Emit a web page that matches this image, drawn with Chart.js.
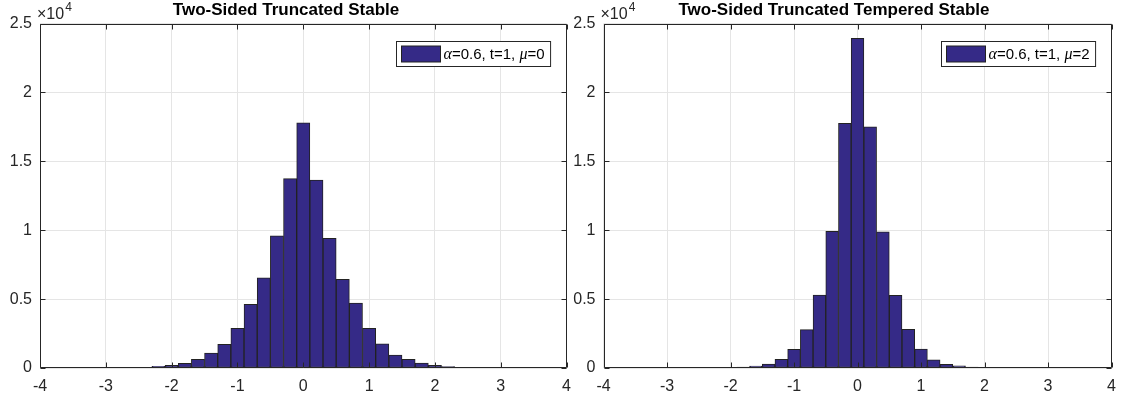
<!DOCTYPE html>
<html>
<head>
<meta charset="utf-8">
<script src="https://cdn.jsdelivr.net/npm/chart.js@4.4.1/dist/chart.umd.min.js"></script>
<style>
  html, body { margin: 0; padding: 0; background: #ffffff; }
  body { width: 1125px; height: 405px; position: relative; overflow: hidden; }
  canvas { position: absolute; top: 0; }
</style>
</head>
<body>
<canvas id="left" width="580" height="405" style="left:0px"></canvas>
<canvas id="right" width="560" height="405" style="left:565px"></canvas>
<script>
// ---- data ----
const leftTitle = "Two-Sided Truncated Stable";
const rightTitle = "Two-Sided Truncated Tempered Stable";
const leftLegend = ["α", "=0.6, t=1, ", "μ", "=0"];
const rightLegend = ["α", "=0.6, t=1, ", "μ", "=2"];

const leftCenters = [-3.8, -3.6, -3.4, -3.2, -3.0, -2.8, -2.6, -2.4, -2.2, -2.0,
                     -1.8, -1.6, -1.4, -1.2, -1.0, -0.8, -0.6, -0.4, -0.2, 0.0,
                     0.2, 0.4, 0.6, 0.8, 1.0, 1.2, 1.4, 1.6, 1.8, 2.0,
                     2.2, 2.4, 2.6, 2.8, 3.0, 3.2];
const leftCounts = [3, 4, 6, 8, 12, 15, 25, 50, 120, 190,
                    330, 630, 1080, 1720, 2880, 4620, 6550, 9600, 13740, 17800,
                    13630, 9410, 6440, 4720, 2880, 1750, 940, 630, 360, 190,
                    100, 50, 25, 15, 8, 4];

const rightCenters = [-3.0, -2.8, -2.6, -2.4, -2.2, -2.0, -1.8, -1.6, -1.4, -1.2,
                      -1.0, -0.8, -0.6, -0.4, -0.2, 0.0, 0.2, 0.4, 0.6, 0.8,
                      1.0, 1.2, 1.4, 1.6, 1.8, 2.0, 2.2, 2.4, 2.6, 2.8, 3.0];
const rightCounts = [2, 3, 3, 5, 8, 15, 60, 140, 290, 630,
                     1360, 2780, 5300, 9920, 17760, 23930, 17510, 9890, 5270, 2810,
                     1380, 600, 270, 150, 70, 30, 15, 8, 5, 3, 2];

const xTickValues = [-4, -3, -2, -1, 0, 1, 2, 3, 4];
const yTickValues = [0, 5000, 10000, 15000, 20000, 25000];
const yExponent = "4";

// ---- styling ----
const BAR_FILL = "#352a87";
const BAR_EDGE = "#222222";
const AXIS_COLOR = "#262626";
const GRID_COLOR = "#e5e5e5";
const FONT = "'Liberation Sans', Arial, Helvetica, sans-serif";
const TICK_SIZE = 16;

const decor = {
  id: "matlabDecor",
  afterDatasetsDraw(chart, args, o) {
    const ctx = chart.ctx;
    const ca = chart.chartArea;
    const xs = chart.scales.x, ys = chart.scales.y;
    const L = Math.round(ca.left) + 0.5, R = Math.round(ca.right) - 0.5;
    const T = Math.round(ca.top) + 0.5, B = Math.round(ca.bottom) - 0.5;
    ctx.save();
    ctx.strokeStyle = AXIS_COLOR;
    ctx.lineWidth = 1;
    ctx.beginPath();
    ctx.rect(L, T, R - L, B - T);
    // inward tick marks
    const tl = 5;
    xTickValues.forEach(v => {
      const px = Math.round(xs.getPixelForValue(v)) + 0.5;
      ctx.moveTo(px, B); ctx.lineTo(px, B - tl);
      ctx.moveTo(px, T); ctx.lineTo(px, T + tl);
    });
    yTickValues.forEach(v => {
      const py = Math.round(ys.getPixelForValue(v)) + 0.5;
      ctx.moveTo(L, py); ctx.lineTo(L + tl, py);
      ctx.moveTo(R, py); ctx.lineTo(R - tl, py);
    });
    ctx.stroke();

    // legend box (top-right, inside axes)
    const parts = o.legend;
    const fs = 15;
    const normalFont = fs + "px " + FONT;
    const italFont = "italic " + (fs + 1) + "px 'Liberation Serif', 'DejaVu Serif', serif";
    let tw = 0;
    parts.forEach((p, i) => {
      ctx.font = (i % 2 === 0) ? italFont : normalFont;
      tw += ctx.measureText(p).width;
    });
    const sw = 39, sh = 16, pad = 5, gap = 3, bh = 25;
    const bw = pad + sw + gap + tw + 6;
    const bx = Math.round(ca.right - 16 - bw) + 0.5;
    const by = Math.round(ca.top + 17) + 0.5;
    ctx.fillStyle = "#ffffff";
    ctx.fillRect(bx, by, bw, bh);
    ctx.strokeStyle = AXIS_COLOR;
    ctx.strokeRect(bx, by, bw, bh);
    ctx.fillStyle = BAR_FILL;
    ctx.fillRect(bx + pad, by + (bh - sh) / 2, sw, sh);
    ctx.strokeStyle = BAR_EDGE;
    ctx.strokeRect(bx + pad, by + (bh - sh) / 2, sw, sh);
    let tx = bx + pad + sw + gap;
    ctx.fillStyle = "#000000";
    ctx.textBaseline = "middle";
    ctx.textAlign = "left";
    parts.forEach((p, i) => {
      ctx.font = (i % 2 === 0) ? italFont : normalFont;
      ctx.fillText(p, tx, by + bh / 2 + 1);
      tx += ctx.measureText(p).width;
    });
    ctx.restore();
  },
  afterDraw(chart, args, o) {
    const ctx = chart.ctx;
    const ca = chart.chartArea;
    ctx.save();
    ctx.fillStyle = "#000000";
    ctx.textAlign = "center";
    ctx.textBaseline = "alphabetic";
    ctx.font = "bold 17px " + FONT;
    ctx.fillText(o.title, o.titleX, 15);
    // exponent label
    ctx.fillStyle = AXIS_COLOR;
    ctx.textAlign = "left";
    ctx.font = TICK_SIZE + "px " + FONT;
    const ex = ca.left - 3;
    ctx.fillText("×10", ex, 19);
    const w = ctx.measureText("×10").width;
    ctx.font = "12px " + FONT;
    ctx.fillText(yExponent, ex + w + 1, 11);
    ctx.restore();
  }
};

function makeChart(id, centers, counts, cfg) {
  const data = centers.map((c, i) => ({ x: c, y: counts[i] }));
  return new Chart(document.getElementById(id), {
    type: "bar",
    data: {
      datasets: [{
        data: data,
        backgroundColor: BAR_FILL,
        borderColor: BAR_EDGE,
        borderWidth: 1,
        borderSkipped: false,
        barPercentage: 1,
        categoryPercentage: 1
      }]
    },
    options: {
      responsive: false,
      devicePixelRatio: 1,
      animation: false,
      events: [],
      layout: { padding: { top: 23.5, right: cfg.padRight, left: 0, bottom: 0 } },
      plugins: {
        legend: { display: false },
        tooltip: { enabled: false },
        title: { display: false },
        matlabDecor: { title: cfg.title, titleX: cfg.titleX, legend: cfg.legend }
      },
      scales: {
        x: {
          type: "linear",
          min: -4, max: 4,
          offset: false,
          afterBuildTicks: s => { s.ticks = xTickValues.map(v => ({ value: v })); },
          afterFit: s => { s.height = 37; },
          ticks: {
            color: AXIS_COLOR,
            font: { family: FONT, size: TICK_SIZE },
            padding: 9,
            maxRotation: 0,
            callback: v => String(v)
          },
          grid: { color: GRID_COLOR, drawTicks: false, lineWidth: 1, offset: false },
          border: { display: false }
        },
        y: {
          min: 0, max: 25000,
          afterBuildTicks: s => { s.ticks = yTickValues.map(v => ({ value: v })); },
          afterFit: s => { s.width = cfg.yWidth; },
          ticks: {
            color: AXIS_COLOR,
            font: { family: FONT, size: TICK_SIZE },
            padding: 8,
            callback: v => String(v / 10000)
          },
          grid: { color: GRID_COLOR, drawTicks: false, lineWidth: 1 },
          border: { display: false }
        }
      }
    },
    plugins: [decor]
  });
}

makeChart("left", leftCenters, leftCounts,
  { title: leftTitle, titleX: 286, legend: leftLegend, padRight: 12, yWidth: 40 });
makeChart("right", rightCenters, rightCounts,
  { title: rightTitle, titleX: 269, legend: rightLegend, padRight: 9.5, yWidth: 38.5 });
</script>
</body>
</html>
